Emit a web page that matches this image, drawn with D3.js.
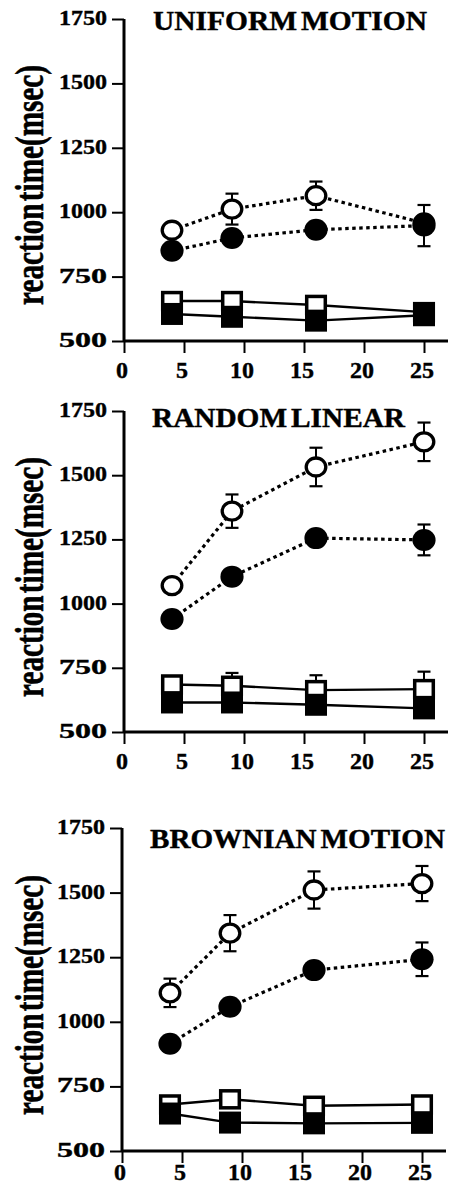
<!DOCTYPE html>
<html>
<head>
<meta charset="utf-8">
<script src="https://d3js.org/d3.v7.min.js"></script>
<style>
  body { margin: 0; background: #fff; }
  text { font-family: "Liberation Serif", "DejaVu Serif", serif; font-weight: bold; fill: #000; stroke: #000; stroke-width: 0.4; }
</style>
</head>
<body>
<div id="chart"></div>
<script>
// set sizes on the x axis
const setSizes = [4, 9, 16, 25];
const xTicks = [0, 5, 10, 15, 20, 25];
const yTicks = [500, 750, 1000, 1250, 1500, 1750];
const panelTitles = ["UNIFORM MOTION", "RANDOM LINEAR", "BROWNIAN MOTION"];
const yLabel = "reaction time(msec)";

// open circles (dotted)
const openCircle = [
  [930, 1012, 1064, 958],
  [1070, 1360, 1532, 1630],
  [1112, 1343, 1510, 1535]
];
const openCircleErr = [
  [0, 60, 55, 0],
  [0, 65, 75, 75],
  [55, 70, 72, 68]
];
// filled circles (dotted)
const filledCircle = [
  [850, 900, 932, 948],
  [940, 1105, 1255, 1248],
  [915, 1058, 1200, 1242]
];
const filledCircleErr = [
  [0, 0, 0, 80],
  [0, 0, 0, 60],
  [0, 0, 0, 65]
];
// open squares (solid)
const openSquare = [
  [655, 655, 640, 612],
  [685, 680, 663, 667],
  [680, 700, 675, 680]
];
const openSquareErr = [
  [0, 0, 0, 0],
  [0, 50, 58, 68],
  [0, 0, 0, 0]
];
// filled squares (solid)
const filledSquare = [
  [605, 594, 579, 600],
  [615, 615, 606, 592],
  [645, 610, 607, 609]
];

const width = 452, height = 1187;

// where each panel sits on the page
const layout = [
  { top: 19, bottom: 341, x0: 124, titleX: 153, titleY: 30, titleW: 274, labelY: 185 },
  { top: 411, bottom: 732, x0: 124, titleX: 152, titleY: 427, titleW: 253, labelY: 577 },
  { top: 828, bottom: 1151, x0: 122, titleX: 150, titleY: 848, titleW: 295, labelY: 995 }
];

const svg = d3.select("#chart")
  .append("svg")
  .attr("width", width)
  .attr("height", height)
  .style("display", "block");

layout.forEach((L, p) => {
  const g = svg.append("g");
  const x = d3.scaleLinear().domain([0, 27]).range([L.x0, L.x0 + 27 * 12]);
  const y = d3.scaleLinear().domain([500, 1750]).range([L.bottom, L.top]);

  // y axis
  const yAxis = g.append("g")
    .attr("transform", `translate(${L.x0},0)`)
    .call(d3.axisLeft(y).tickValues(yTicks).tickSize(12).tickFormat(""));
  yAxis.select(".domain").attr("stroke-width", 3).attr("d", `M0,${L.top}V${L.bottom}`);
  yAxis.selectAll(".tick line").attr("stroke-width", 2);

  // x axis
  const xAxis = g.append("g")
    .attr("transform", `translate(0,${L.bottom})`)
    .call(d3.axisBottom(x).tickValues(xTicks).tickSize(12).tickFormat(""));
  xAxis.select(".domain").attr("stroke-width", 3).attr("d", `M${L.x0},0H${x(27)}`);
  xAxis.selectAll(".tick line").attr("stroke-width", 2);

  // tick labels
  g.selectAll(".ylab")
    .data(yTicks)
    .enter().append("text")
    .attr("x", L.x0 - 17)
    .attr("y", d => y(d) + 6)
    .attr("text-anchor", "end")
    .attr("font-size", 22)
    .attr("textLength", 48)
    .attr("lengthAdjust", "spacingAndGlyphs")
    .text(d => d);

  // last panel's labels sit at the page's bottom edge, keep them inside
  g.selectAll(".xlab")
    .data(xTicks)
    .enter().append("text")
    .attr("x", d => x(d) - 2)
    .attr("y", Math.min(L.bottom + 37, height - 7))
    .attr("text-anchor", "middle")
    .attr("font-size", 24)
    .text(d => d);

  // axis title, rotated and stretched
  g.append("text")
    .attr("transform", `translate(43,${L.labelY}) rotate(-90) scale(1,1.4)`)
    .attr("text-anchor", "middle")
    .attr("font-size", 29)
    .attr("textLength", 240)
    .attr("lengthAdjust", "spacingAndGlyphs")
    .attr("word-spacing", -5)
    .text(yLabel);

  // panel title
  g.append("text")
    .attr("x", L.titleX)
    .attr("y", L.titleY)
    .attr("font-size", 27)
    .attr("word-spacing", -3)
    .attr("textLength", L.titleW)
    .attr("lengthAdjust", "spacingAndGlyphs")
    .text(panelTitles[p]);

  const line = d3.line().x((d, i) => x(setSizes[i])).y(d => y(d));

  // connecting lines
  [openCircle[p], filledCircle[p]].forEach(vals => {
    g.append("path")
      .attr("d", line(vals))
      .attr("fill", "none")
      .attr("stroke", "#000")
      .attr("stroke-width", 3.2)
      .attr("stroke-dasharray", "3.5,3.5");
  });
  [openSquare[p], filledSquare[p]].forEach(vals => {
    g.append("path")
      .attr("d", line(vals))
      .attr("fill", "none")
      .attr("stroke", "#000")
      .attr("stroke-width", 2.4);
  });

  // error bars
  function errorBars(vals, errs) {
    vals.forEach((v, i) => {
      if (!errs[i]) return;
      const cx = x(setSizes[i]);
      const y1 = y(v + errs[i]), y2 = y(v - errs[i]);
      g.append("line").attr("x1", cx).attr("x2", cx).attr("y1", y1).attr("y2", y2)
        .attr("stroke", "#000").attr("stroke-width", 2);
      [y1, y2].forEach(yy => {
        g.append("line").attr("x1", cx - 6.5).attr("x2", cx + 6.5).attr("y1", yy).attr("y2", yy)
          .attr("stroke", "#000").attr("stroke-width", 2.2);
      });
    });
  }
  errorBars(openCircle[p], openCircleErr[p]);
  errorBars(filledCircle[p], filledCircleErr[p]);
  errorBars(openSquare[p], openSquareErr[p]);

  // markers
  g.selectAll(".osq").data(openSquare[p]).enter().append("rect")
    .attr("x", (d, i) => x(setSizes[i]) - 9.3)
    .attr("y", d => y(d) - 8.5)
    .attr("width", 18.6).attr("height", 17)
    .attr("fill", "#fff").attr("stroke", "#000").attr("stroke-width", 3.5);
  g.selectAll(".fsq").data(filledSquare[p]).enter().append("rect")
    .attr("x", (d, i) => x(setSizes[i]) - 11)
    .attr("y", d => y(d) - 11)
    .attr("width", 22).attr("height", 22)
    .attr("fill", "#000");
  g.selectAll(".oc").data(openCircle[p]).enter().append("ellipse")
    .attr("cx", (d, i) => x(setSizes[i]))
    .attr("cy", d => y(d))
    .attr("rx", 9.8).attr("ry", 9)
    .attr("fill", "#fff").attr("stroke", "#000").attr("stroke-width", 3.3);
  g.selectAll(".fc").data(filledCircle[p]).enter().append("ellipse")
    .attr("cx", (d, i) => x(setSizes[i]))
    .attr("cy", d => y(d))
    .attr("rx", 11.6).attr("ry", 11)
    .attr("fill", "#000");
});
</script>
</body>
</html>
